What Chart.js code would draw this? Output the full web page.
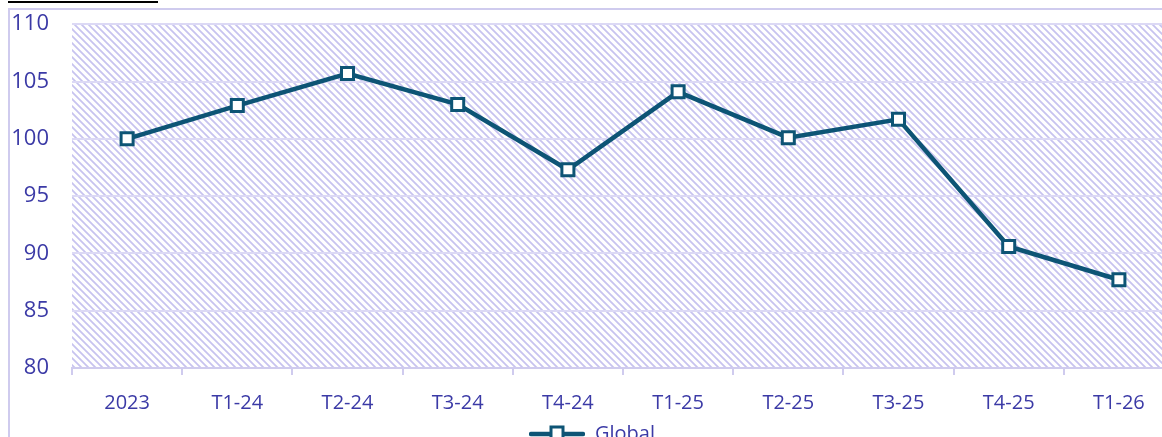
<!DOCTYPE html>
<html lang="fr">
<head>
  <meta charset="UTF-8">
  <title>Global</title>
  <script src="https://cdn.jsdelivr.net/npm/chart.js"></script>
  <style>
    *{box-sizing:border-box}
    html,body{margin:0;padding:0;background:#fff;overflow:hidden;width:1162px;height:437px}
    #topline{position:absolute;left:8px;top:1px;width:150px;height:2px;background:#000}
    #frame{
      position:absolute;left:8px;top:8px;width:1220px;height:460px;
      border-left:2px solid #cfcbee;border-top:2px solid #cfcbee;
    }
    #chart{position:absolute;left:0;top:-22px}
  </style>
</head>
<body>
  <div id="topline"></div>
  <div id="frame">
    <canvas id="chart" width="1190" height="466"></canvas>
  </div>

<script>
/* ====== Données ====== */
const periodes = ['2023','T1-24','T2-24','T3-24','T4-24','T1-25','T2-25','T3-25','T4-25','T1-26'];
const globalVals = [100.0, 102.9, 105.7, 103.0, 97.3, 104.1, 100.1, 101.7, 90.6, 87.7];
const yMin = 80, yMax = 110, yStep = 5;

const BLEU = '#0d5475';
const TEXTE = '#3b3aa6';
const LAVANDE = '#dcd9f5';

// motif hachuré du fond
function makeHatch(){
  const s = 7;
  const c = document.createElement('canvas');
  c.width = s; c.height = s;
  const g = c.getContext('2d');
  g.fillStyle = '#fff';
  g.fillRect(0,0,s,s);
  g.strokeStyle = 'rgba(175,170,232,0.7)';
  g.lineWidth = 1.8;
  g.beginPath();
  for(const o of [-s,0,s]){
    g.moveTo(o-1,-1);
    g.lineTo(o+s+1,s+1);
  }
  g.stroke();
  return g.createPattern(c,'repeat');
}

// icône de légende : trait + carré
function makeLegendIcon(){
  const c = document.createElement('canvas');
  c.width = 56; c.height = 20;
  const g = c.getContext('2d');
  g.strokeStyle = BLEU;
  g.lineWidth = 4.5;
  g.lineCap = 'round';
  g.beginPath(); g.moveTo(2,10); g.lineTo(54,10); g.stroke();
  g.fillStyle = '#fff';
  g.lineWidth = 3;
  g.fillRect(22,3,12,14);
  g.strokeRect(22,3,12,14);
  return c;
}

const hatchPlugin = {
  id:'hatch',
  beforeDraw(chart){
    const {ctx, chartArea:a} = chart;
    if(!a) return;
    ctx.save();
    ctx.fillStyle = hatchPlugin.pattern || (hatchPlugin.pattern = makeHatch());
    ctx.fillRect(a.left, a.top, a.right - a.left, a.bottom - a.top);
    ctx.restore();
  }
};

const legendIcon = makeLegendIcon();
const FONT = "'Open Sans', 'Liberation Sans', sans-serif";

new Chart(document.getElementById('chart'), {
  type:'line',
  data:{
    labels:periodes,
    datasets:[{
      label:'Global',
      data:globalVals,
      borderColor:BLEU,
      borderWidth:4.5,
      tension:0,
      pointStyle:'rect',
      pointRadius:8.5,
      pointBorderWidth:3,
      pointBackgroundColor:'#fff',
      pointBorderColor:BLEU
    }]
  },
  options:{
    responsive:false,
    animation:false,
    layout:{padding:{top:0,right:26,left:0,bottom:0}},
    plugins:{
      tooltip:{enabled:false},
      legend:{
        position:'bottom',
        labels:{
          usePointStyle:true,
          pointStyleWidth:56,
          color:TEXTE,
          font:{family:FONT,size:20},
          padding:8,
          generateLabels(chart){
            return Chart.defaults.plugins.legend.labels.generateLabels(chart).map(it=>{
              it.pointStyle = legendIcon;
              return it;
            });
          }
        }
      }
    },
    scales:{
      x:{
        offset:true,
        grid:{offset:true,drawOnChartArea:false,drawTicks:true,tickLength:7,color:'#cfcbee',lineWidth:2},
        border:{display:true,color:'#cfcbee',width:2},
        ticks:{color:TEXTE,font:{family:FONT,size:20},padding:16,maxRotation:0},
        afterFit(scale){ scale.height = 48; }
      },
      y:{
        min:yMin,max:yMax,
        ticks:{stepSize:yStep,color:TEXTE,font:{family:FONT,size:22},padding:23},
        grid:{color:LAVANDE,lineWidth:2,drawTicks:false},
        border:{display:false},
        afterFit(scale){ scale.width = 62; }
      }
    }
  },
  plugins:[hatchPlugin]
});
</script>
</body>
</html>
